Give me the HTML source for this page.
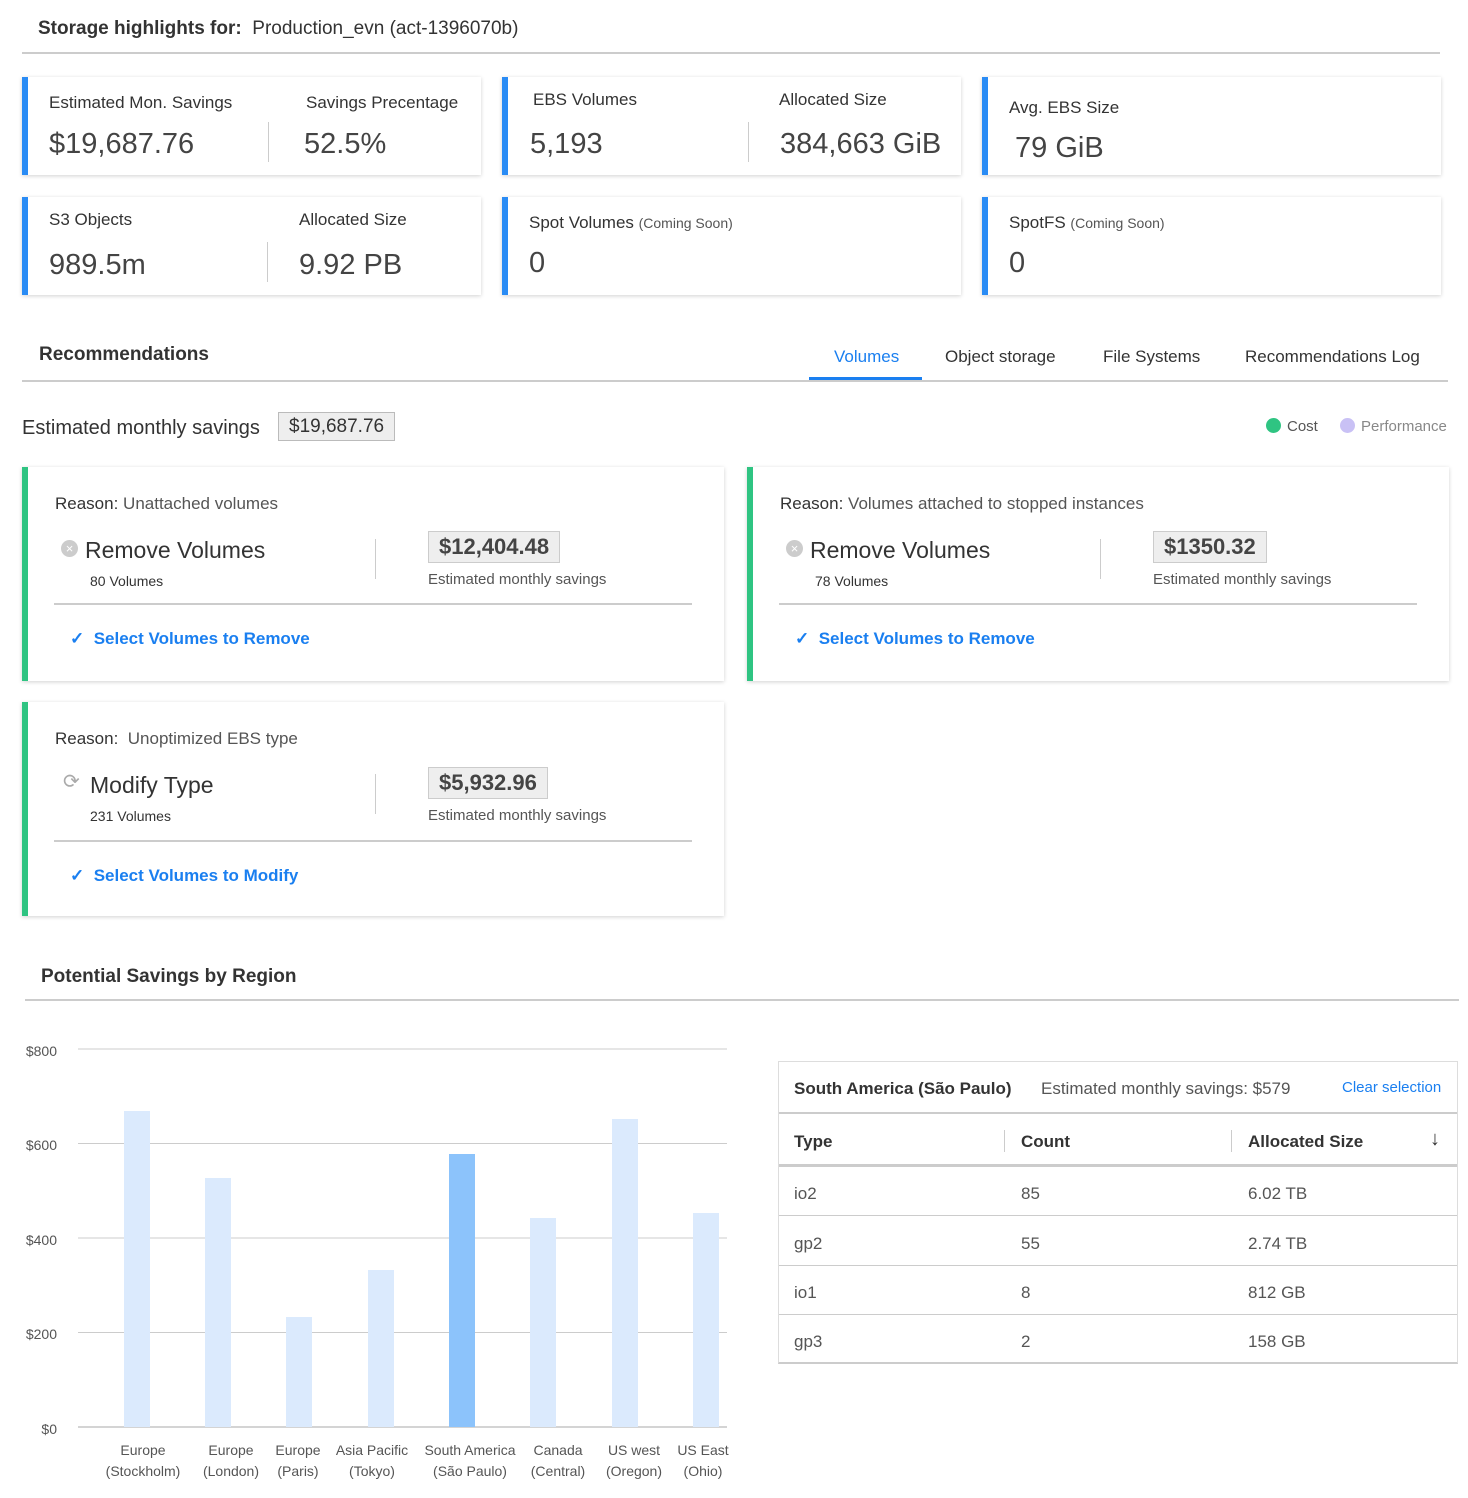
<!DOCTYPE html>
<html><head><meta charset="utf-8"><style>
*{box-sizing:border-box;margin:0;padding:0}
body{width:1468px;height:1498px;background:#fff;font-family:"Liberation Sans",sans-serif;color:#333;position:relative;overflow:hidden}
.a{position:absolute;white-space:nowrap}
.card{position:absolute;background:#fff;box-shadow:0 1px 4px rgba(0,0,0,.18);border-left:6px solid #2a8cf5}
.g{border-left-color:#2fc482}
.lab{font-size:17px;color:#333;margin-top:2px}
.big{font-size:29px;color:#444;margin-top:3px}
.vd{position:absolute;width:1px;background:#ccc}
.blue{color:#1a7ff0;font-weight:bold;font-size:17px;margin-top:2px}
.pill{position:absolute;background:#eee;border:1px solid #ccc;font-weight:bold;font-size:22px;color:#444;padding:2px 10px}
.hr{position:absolute;height:2px;background:#ccc}
.sm{font-size:15px;color:#555;margin-top:1px}
.xl{position:absolute;font-size:14px;color:#555;text-align:center;width:100px;line-height:21px}
</style></head><body>
<div class="a" style="left:38px;top:18px;font-size:19px"><b>Storage highlights for:</b>&nbsp; Production_evn (act-1396070b)</div>
<div class="hr" style="left:22px;top:52px;width:1418px"></div>

<div class="card" style="left:22px;top:77px;width:459px;height:98px">
<div class="a lab" style="left:21px;top:14px">Estimated Mon. Savings</div><div class="a big" style="left:21px;top:48px">$19,687.76</div>
<div class="vd" style="left:240px;top:45px;height:40px"></div>
<div class="a lab" style="left:278px;top:14px">Savings Precentage</div><div class="a big" style="left:276px;top:48px">52.5%</div></div>
<div class="card" style="left:502px;top:77px;width:459px;height:98px">
<div class="a lab" style="left:25px;top:11px">EBS Volumes</div><div class="a big" style="left:22px;top:48px">5,193</div>
<div class="vd" style="left:240px;top:45px;height:40px"></div>
<div class="a lab" style="left:271px;top:11px">Allocated Size</div><div class="a big" style="left:272px;top:48px">384,663 GiB</div></div>
<div class="card" style="left:982px;top:77px;width:459px;height:98px">
<div class="a lab" style="left:21px;top:19px">Avg. EBS Size</div><div class="a big" style="left:27px;top:52px">79 GiB</div></div>

<div class="card" style="left:22px;top:197px;width:459px;height:98px">
<div class="a lab" style="left:21px;top:11px">S3 Objects</div><div class="a big" style="left:21px;top:49px">989.5m</div>
<div class="vd" style="left:239px;top:45px;height:40px"></div>
<div class="a lab" style="left:271px;top:11px">Allocated Size</div><div class="a big" style="left:271px;top:49px">9.92 PB</div></div>
<div class="card" style="left:502px;top:197px;width:459px;height:98px">
<div class="a lab" style="left:21px;top:14px">Spot Volumes <span style="font-size:14px;color:#555">(Coming Soon)</span></div><div class="a big" style="left:21px;top:47px">0</div></div>
<div class="card" style="left:982px;top:197px;width:459px;height:98px">
<div class="a lab" style="left:21px;top:14px">SpotFS <span style="font-size:14px;color:#555">(Coming Soon)</span></div><div class="a big" style="left:21px;top:47px">0</div></div>

<div class="a" style="left:39px;top:344px;font-size:19px;font-weight:bold">Recommendations</div>
<div class="a" style="left:834px;top:347px;font-size:17px;color:#1a7ff0">Volumes</div>
<div class="a" style="left:945px;top:347px;font-size:17px">Object storage</div>
<div class="a" style="left:1103px;top:347px;font-size:17px">File Systems</div>
<div class="a" style="left:1245px;top:347px;font-size:17px">Recommendations Log</div>
<div class="hr" style="left:22px;top:380px;width:1426px"></div>
<div class="a" style="left:809px;top:377px;width:113px;height:3px;background:#1a7ff0"></div>

<div class="a" style="left:22px;top:417px;font-size:20px">Estimated monthly savings</div>
<div class="a" style="left:278px;top:412px;border:1px solid #bbb;background:#eee;font-size:19px;padding:3px 10px 2px">$19,687.76</div>
<div class="a" style="left:1266px;top:418px;width:15px;height:15px;border-radius:50%;background:#2fc482"></div>
<div class="a sm" style="left:1287px;top:417px">Cost</div>
<div class="a" style="left:1340px;top:418px;width:15px;height:15px;border-radius:50%;background:#c9c1f5"></div>
<div class="a sm" style="left:1361px;top:417px;color:#888">Performance</div>

<div class="card g" style="left:22px;top:467px;width:702px;height:214px">
<div class="a lab" style="left:27px;top:25px;color:#555"><span style="color:#333">Reason:</span> Unattached volumes</div>
<div class="a" style="left:33px;top:73px;width:17px;height:17px;border-radius:50%;background:#ccc;color:#fff;font-size:13px;text-align:center;line-height:17px">×</div>
<div class="a" style="left:57px;top:70px;font-size:23px">Remove Volumes</div>
<div class="a" style="left:62px;top:106px;font-size:14px">80 Volumes</div>
<div class="vd" style="left:347px;top:72px;height:40px"></div>
<div class="pill" style="left:400px;top:64px">$12,404.48</div>
<div class="a sm" style="left:400px;top:103px">Estimated monthly savings</div>
<div class="hr" style="left:26px;top:136px;width:638px"></div>
<div class="a blue" style="left:42px;top:160px">✓&nbsp; Select Volumes to Remove</div></div>

<div class="card g" style="left:747px;top:467px;width:702px;height:214px">
<div class="a lab" style="left:27px;top:25px;color:#555"><span style="color:#333">Reason:</span> Volumes attached to stopped instances</div>
<div class="a" style="left:33px;top:73px;width:17px;height:17px;border-radius:50%;background:#ccc;color:#fff;font-size:13px;text-align:center;line-height:17px">×</div>
<div class="a" style="left:57px;top:70px;font-size:23px">Remove Volumes</div>
<div class="a" style="left:62px;top:106px;font-size:14px">78 Volumes</div>
<div class="vd" style="left:347px;top:72px;height:40px"></div>
<div class="pill" style="left:400px;top:64px">$1350.32</div>
<div class="a sm" style="left:400px;top:103px">Estimated monthly savings</div>
<div class="hr" style="left:26px;top:136px;width:638px"></div>
<div class="a blue" style="left:42px;top:160px">✓&nbsp; Select Volumes to Remove</div></div>

<div class="card g" style="left:22px;top:702px;width:702px;height:214px">
<div class="a lab" style="left:27px;top:25px;color:#555"><span style="color:#333">Reason:</span>&nbsp; Unoptimized EBS type</div>
<div class="a" style="left:35px;top:67px;font-size:20px;color:#aaa">⟳</div>
<div class="a" style="left:62px;top:70px;font-size:23px">Modify Type</div>
<div class="a" style="left:62px;top:106px;font-size:14px">231 Volumes</div>
<div class="vd" style="left:347px;top:72px;height:40px"></div>
<div class="pill" style="left:400px;top:65px">$5,932.96</div>
<div class="a sm" style="left:400px;top:104px">Estimated monthly savings</div>
<div class="hr" style="left:26px;top:138px;width:638px"></div>
<div class="a blue" style="left:42px;top:162px">✓&nbsp; Select Volumes to Modify</div></div>

<div class="a" style="left:41px;top:966px;font-size:19px;font-weight:bold">Potential Savings by Region</div>
<div class="hr" style="left:25px;top:999px;width:1434px"></div>

<svg class="a" style="left:0;top:1030px" width="740" height="410">
<g stroke="#ccc" stroke-width="1">
<line x1="78" y1="19" x2="727" y2="19"/><line x1="78" y1="113.5" x2="727" y2="113.5"/><line x1="78" y1="208" x2="727" y2="208"/><line x1="78" y1="302.5" x2="727" y2="302.5"/><line x1="78" y1="397" x2="727" y2="397" stroke="#aaa"/></g>
<g fill="#dbeafd">
<rect x="124" y="81" width="26" height="316"/><rect x="205" y="148" width="26" height="249"/><rect x="286" y="287" width="26" height="110"/><rect x="368" y="240" width="26" height="157"/>
<rect x="530" y="188" width="26" height="209"/><rect x="612" y="89" width="26" height="308"/><rect x="693" y="183" width="26" height="214"/></g>
<rect x="449" y="124" width="26" height="273" fill="#8cc3fb"/>
<g font-family="Liberation Sans" font-size="14" fill="#555" text-anchor="end">
<text x="57" y="26">$800</text><text x="57" y="120">$600</text><text x="57" y="215">$400</text><text x="57" y="309">$200</text><text x="57" y="404">$0</text></g>
</svg>
<div class="xl" style="left:93px;top:1440px">Europe<br>(Stockholm)</div>
<div class="xl" style="left:181px;top:1440px">Europe<br>(London)</div>
<div class="xl" style="left:248px;top:1440px">Europe<br>(Paris)</div>
<div class="xl" style="left:322px;top:1440px">Asia Pacific<br>(Tokyo)</div>
<div class="xl" style="left:420px;top:1440px">South America<br>(São Paulo)</div>
<div class="xl" style="left:508px;top:1440px">Canada<br>(Central)</div>
<div class="xl" style="left:584px;top:1440px">US west<br>(Oregon)</div>
<div class="xl" style="left:653px;top:1440px">US East<br>(Ohio)</div>

<div class="a" style="left:778px;top:1061px;width:680px;height:303px;border:1px solid #ddd;border-bottom:2px solid #ccc">
<div class="a" style="left:15px;top:17px;font-size:17px;font-weight:bold">South America (São Paulo)</div>
<div class="a" style="left:262px;top:17px;font-size:17px;color:#555">Estimated monthly savings: $579</div>
<div class="a" style="left:563px;top:17px;font-size:15px;color:#1a7ff0">Clear selection</div>
<div class="hr" style="left:0;top:50px;width:678px"></div>
<div class="a" style="left:15px;top:70px;font-size:17px;font-weight:bold">Type</div>
<div class="a" style="left:242px;top:70px;font-size:17px;font-weight:bold">Count</div>
<div class="a" style="left:469px;top:70px;font-size:17px;font-weight:bold">Allocated Size</div>
<div class="a" style="left:651px;top:66px;font-size:20px;font-weight:bold">↓</div>
<div class="vd" style="left:225px;top:68px;height:22px"></div><div class="vd" style="left:452px;top:68px;height:22px"></div>
<div class="hr" style="left:0;top:102px;width:678px;height:3px"></div>
<div class="a lab" style="left:15px;top:120px;color:#555">io2</div><div class="a lab" style="left:242px;top:120px;color:#555">85</div><div class="a lab" style="left:469px;top:120px;color:#555">6.02 TB</div>
<div class="hr" style="left:0;top:153px;width:678px;height:1px"></div>
<div class="a lab" style="left:15px;top:170px;color:#555">gp2</div><div class="a lab" style="left:242px;top:170px;color:#555">55</div><div class="a lab" style="left:469px;top:170px;color:#555">2.74 TB</div>
<div class="hr" style="left:0;top:203px;width:678px;height:1px"></div>
<div class="a lab" style="left:15px;top:219px;color:#555">io1</div><div class="a lab" style="left:242px;top:219px;color:#555">8</div><div class="a lab" style="left:469px;top:219px;color:#555">812 GB</div>
<div class="hr" style="left:0;top:252px;width:678px;height:1px"></div>
<div class="a lab" style="left:15px;top:268px;color:#555">gp3</div><div class="a lab" style="left:242px;top:268px;color:#555">2</div><div class="a lab" style="left:469px;top:268px;color:#555">158 GB</div>
</div>
</body></html>
